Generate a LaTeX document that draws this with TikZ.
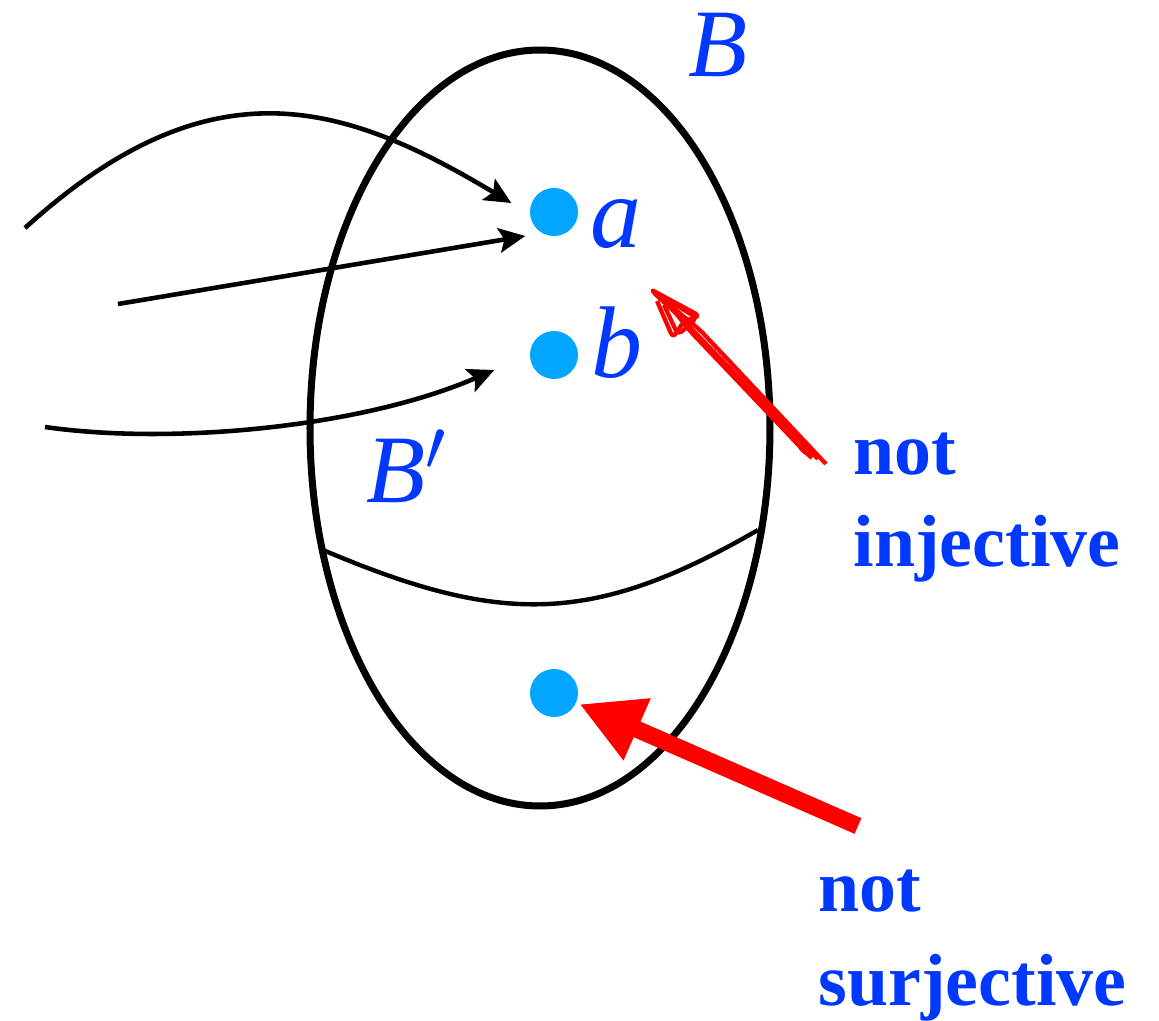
\documentclass[tikz,border=0pt]{standalone}
\usepackage{fontspec}
\setmainfont{Liberation Serif}
\usetikzlibrary{calc}
\usetikzlibrary{positioning}
\usetikzlibrary{arrows.meta}
\definecolor{txtblue}{RGB}{0,56,255}
\definecolor{elemblue}{RGB}{0,166,255}

\begin{document}
\begin{tikzpicture}[x=0.01cm, y=-0.01cm, line join=round,
    elem/.style={circle, fill=elemblue, minimum size=0.48cm, inner sep=0pt},
    setlbl/.style={text=txtblue, font=\fontsize{27.5}{30}\selectfont\itshape, inner sep=0pt, anchor=base west},
    elemlbl/.style={setlbl, font=\fontsize{29}{32}\selectfont\itshape},
    remark/.style={text=txtblue, font=\fontsize{21}{25}\selectfont\bfseries, inner sep=0pt, anchor=base west},
    mapto/.style={-{Stealth[length=7.5pt, width=7pt, inset=1.5pt]}, line width=1.3pt},
    miss/.style={-{Triangle[length=6.3mm, width=6.3mm]}, red, line width=0.17cm},
    scribble/.style={red, line width=1.2pt, rounded corners=1.5pt}]
  \useasboundingbox (0,0) rectangle (1159,1021);
  % the set B, with the part B' cut off by a curve
  \draw[line width=0.07cm] (540,428) ellipse (230 and 378);
  \draw[line width=1.25pt] (323,550) .. controls (500,625) and (592,626) .. (758,530);
  % elements
  \foreach \n/\y in {a/212, b/355, c/693}{
    \node[elem] (\n) at (554,\y) {};
  }
  % labels
  \node[setlbl] (lB) at (688,77) {B};
  \node[setlbl] (lBp) at (366,502) {B$'$};
  \node[elemlbl] (la) at (590,248) {a};
  \node[elemlbl] (lb) at (591,377) {b};
  \node[remark] (inj1) at (853,475) {not};
  \node[remark] (inj2) at (853,567) {injective};
  \node[remark] (sur1) at (818,912) {not};
  \node[remark] (sur2) at (818,1006) {surjective};
  % incoming maps
  \coordinate (s1) at (25,228);
  \coordinate (s2) at (118,304);
  \coordinate (s3) at (45,427);
  \draw[mapto] (s1) .. controls (210,60) and (343,102) .. ($(a.west)+(-18,-9)$);
  \draw[mapto] (s2) -- ($(a.west)+(-4,24)$);
  \draw[mapto] (s3) .. controls (170,445) and (360,428) .. ($(b.west)+(-35,15)$);
  % c is never hit
  \coordinate (rs) at (858,826);
  \draw[miss, shorten >=0.03cm] (rs) -- (c);
  % hand drawn arrow: a and b are hit twice
  \draw[scribble] (826,464) -- (700,330) -- (660,297) -- (650,289) -- (700,316)
    -- (684,321) -- (673,338) -- (657,301);
  \draw[scribble] (806,453) -- (690,331) -- (663,297) -- (697,318) -- (678,335)
    -- (671,320) -- (664,305);
  \draw[scribble] (818,459) -- (681,318) -- (654,293);
  \draw[scribble] (812,458) -- (798,446) -- (808,450);
\end{tikzpicture}
\end{document}
